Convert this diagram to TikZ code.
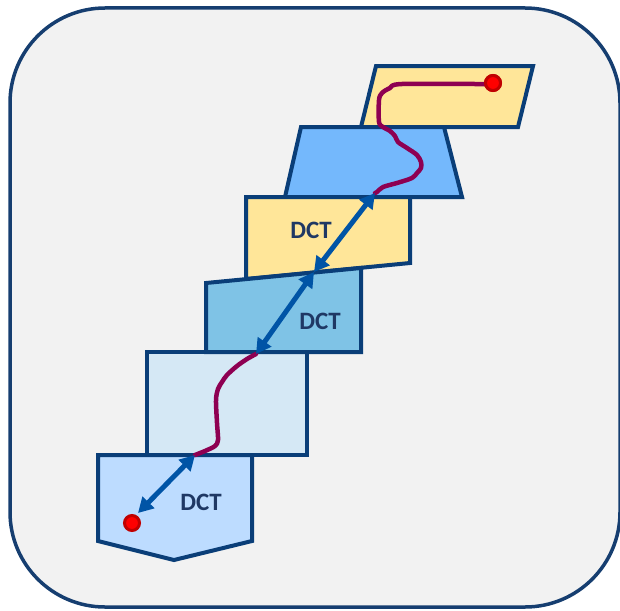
\documentclass[tikz,border=0pt]{standalone}
\usepackage{fontspec}
\setmainfont{Carlito}
\usetikzlibrary{arrows.meta}

\definecolor{panelbg}{RGB}{242,242,242}
\definecolor{navy}{RGB}{22,62,112}
\definecolor{edge}{RGB}{10,62,120}
\definecolor{sand}{RGB}{255,230,153}
\definecolor{sky}{RGB}{116,184,252}
\definecolor{midblue}{RGB}{127,195,230}
\definecolor{paleblue}{RGB}{213,232,245}
\definecolor{softblue}{RGB}{189,220,255}
\definecolor{arrowblue}{RGB}{0,84,166}
\definecolor{plum}{RGB}{142,0,82}
\definecolor{labelnavy}{RGB}{31,56,100}
\definecolor{dotred}{RGB}{255,0,0}
\definecolor{dotrim}{RGB}{192,0,0}

\tikzset{
  panel/.style={draw=navy, fill=panelbg, line width=3.5pt, rounded corners=95pt},
  layer/.style={draw=edge, line width=4pt, line join=miter},
  dctlabel/.style={text=labelnavy, font=\bfseries\fontsize{25}{29}\selectfont, inner sep=0pt},
  endpoint/.style={circle, fill=dotred, draw=dotrim, line width=3pt, minimum size=15pt, inner sep=0pt},
  link/.style={draw=arrowblue, line width=5pt,
    {Triangle[length=15pt,width=16pt]}-{Triangle[length=15pt,width=16pt]}},
  trace/.style={draw=plum, line width=4.5pt, line cap=round, line join=round}
}

\begin{document}
\begin{tikzpicture}[x=1pt,y=-1pt]
\useasboundingbox (0,0) rectangle (620,610);

% outer panel
\draw[panel] (10,8) rectangle (620,607);

% stacked layers, top to bottom
\filldraw[layer, fill=sand] (376,66) -- (533,66) -- (518,127) -- (361,127) -- cycle;
\filldraw[layer, fill=sky] (301,127) -- (444,127) -- (462,197) -- (285,197) -- cycle;
\filldraw[layer, fill=sand] (246,197) -- (410,197) -- (410,263) -- (246,279) -- cycle;
\filldraw[layer, fill=paleblue] (147,352) -- (307,352) -- (307,455) -- (147,455) -- cycle;
\filldraw[layer, fill=midblue] (206,283) -- (361,268) -- (361,352) -- (206,352) -- cycle;
\filldraw[layer, fill=softblue] (98,455) -- (252,455) -- (252,541) -- (174,560) -- (98,541) -- cycle;

% labels
\node[dctlabel] (dctA) at (311,230) {DCT};
\node[dctlabel] (dctB) at (320,321) {DCT};
\node[dctlabel] (dctC) at (201,502) {DCT};

% end points
\node[endpoint] (src) at (493,83) {};
\node[endpoint] (dst) at (132,523) {};

% junction points on the layer boundaries
\coordinate (jA) at (375,193);
\coordinate (jB) at (314,272);
\coordinate (jC) at (256,354);
\coordinate (jD) at (195,455);
\coordinate (jE) at (138,513);

% routed traces
\draw[trace] plot[smooth, tension=0.5] coordinates {
  (src.center) (487,84) (402,84) (390,88) (382,93) (379,100) (379,122) (383,127)
  (390,131) (395,136) (398,142) (407,148) (417,155) (421,162) (421,168)
  (417,173) (412,178) (397,183) (383,187) (377,192) (jA)};
\draw[trace] plot[smooth, tension=0.5] coordinates {
  (jC) (247,359) (237,366) (227,375) (222,382) (218,389) (216,400)
  (217,423) (218,440) (215,446) (205,451) (jD)};
\node[endpoint] at (src) {};

% transform links
\draw[link] (jB) -- (jA);
\draw[link] (jC) -- (jB);
\draw[link] (jE) -- (jD);
\end{tikzpicture}
\end{document}
